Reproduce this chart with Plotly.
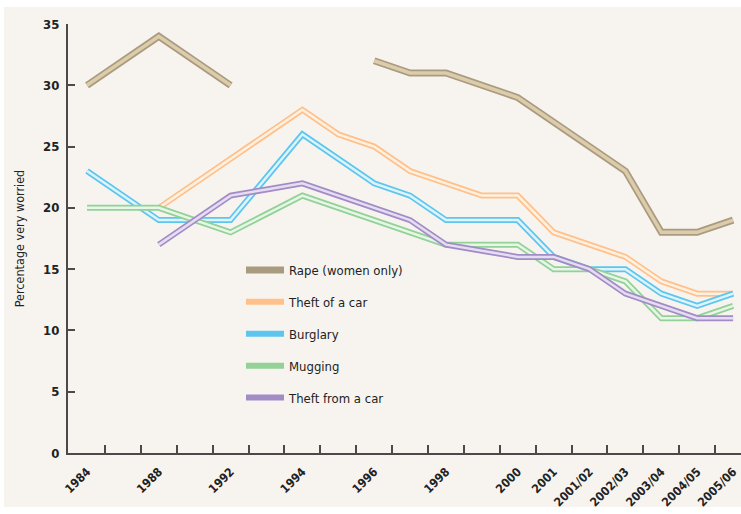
import plotly.graph_objects as go

# 19 evenly spaced slots along the x axis; only some carry a label
slot_labels = ["1984", "", "1988", "", "1992", "", "1994", "", "1996", "",
               "1998", "", "2000", "2001", "2001/02", "2002/03", "2003/04",
               "2004/05", "2005/06"]
slots = list(range(len(slot_labels)))

rape = [30, 32, 34, 32, 30, None, None, None, 32, 31,
        31, 30, 29, 27, 25, 23, 18, 18, 19]
theft_of_car = [None, None, 20, 22, 24, 26, 28, 26, 25, 23,
                22, 21, 21, 18, 17, 16, 14, 13, 13]
burglary = [23, 21, 19, 19, 19, 22.5, 26, 24, 22, 21,
            19, 19, 19, 16, 15, 15, 13, 12, 13]
mugging = [20, 20, 20, 19, 18, 19.5, 21, 20, 19, 18,
           17, 17, 17, 15, 15, 14, 11, 11, 12]
theft_from_car = [None, None, 17, 19, 21, 21.5, 22, 21, 20, 19,
                  17, 16.5, 16, 16, 15, 13, 12, 11, 11]

series_names = ["Rape (women only)", "Theft of a car", "Burglary",
                "Mugging", "Theft from a car"]
series_values = [rape, theft_of_car, burglary, mugging, theft_from_car]

y_ticks = [0, 5, 10, 15, 20, 25, 30, 35]

outer_colors = ["#A99B80", "#FFC08A", "#5EC6EE", "#93D197", "#A28CC6"]
inner_colors = ["#DCCCAA", "#FFF1E2", "#DDF4FD", "#E6F6E7", "#E6DDF2"]
outer_widths = [7, 6, 6, 6, 6]
inner_widths = [3.5, 2.5, 2.5, 2.5, 2.5]

FONT = "DejaVu Sans Condensed, DejaVu Sans, sans-serif"

fig = go.Figure()
for i, (name, vals) in enumerate(zip(series_names, series_values)):
    fig.add_trace(go.Scatter(
        x=slots, y=vals, mode="lines", name=name, legendgroup=name,
        legendrank=i + 1, connectgaps=False, hoverinfo="skip",
        line=dict(color=outer_colors[i], width=outer_widths[i]),
    ))
    fig.add_trace(go.Scatter(
        x=slots, y=vals, mode="lines", name=name, legendgroup=name,
        showlegend=False, connectgaps=False, hoverinfo="skip",
        line=dict(color=inner_colors[i], width=inner_widths[i]),
    ))

tick_vals = [s for s, lab in zip(slots, slot_labels) if lab]
tick_text = [lab for lab in slot_labels if lab]

L, T, B = 68, 24, 61
W, H = 741, 514
pw, ph = W - L, H - T - B

fig.update_layout(
    width=W, height=H,
    margin=dict(l=L, r=0, t=T, b=B, autoexpand=False),
    paper_bgcolor="white",
    plot_bgcolor="rgba(0,0,0,0)",
    font=dict(family=FONT, color="#222222"),
    showlegend=True,
    legend=dict(
        x=(241 - L) / pw, xanchor="left",
        y=(H - B - 255) / ph, yanchor="top",
        bgcolor="rgba(0,0,0,0)",
        font=dict(family=FONT, size=13, color="#222222"),
        tracegroupgap=12,
        traceorder="grouped",
        itemwidth=38,
    ),
    shapes=[dict(
        type="rect", xref="paper", yref="paper", layer="below",
        x0=(4 - L) / pw, x1=1.0,
        y0=-(507 - (H - B)) / ph, y1=1 + (T - 7) / ph,
        fillcolor="#F7F4F0", line=dict(width=0),
    )],
    xaxis=dict(
        range=[-0.53, 18.22], automargin=False,
        tickmode="array", tickvals=tick_vals, ticktext=tick_text,
        ticks="", tickangle=-45,
        tickfont=dict(family=FONT, size=12, color="#222222", weight="bold"),
        ticklabelstandoff=5, ticklabeloverflow="allow",
        showline=True, linecolor="#4A4A4A", linewidth=2,
        showgrid=False, zeroline=False,
        minor=dict(tickmode="array",
                   tickvals=[s + 0.5 for s in slots[:-1]],
                   ticks="inside", ticklen=8, tickwidth=2,
                   tickcolor="#4A4A4A", showgrid=False),
    ),
    yaxis=dict(
        range=[0, 35], automargin=False,
        tickmode="array", tickvals=y_ticks,
        ticks="inside", ticklen=7, tickwidth=2, tickcolor="#4A4A4A",
        tickfont=dict(family=FONT, size=13, color="#222222", weight="bold"),
        ticklabelstandoff=4,
        showline=True, linecolor="#4A4A4A", linewidth=2,
        showgrid=False, zeroline=False,
        title=dict(text="Percentage very worried",
                   font=dict(family=FONT, size=12.5, color="#222222"),
                   standoff=16),
    ),
)

fig.write_html(
    "out.html",
    config={"displayModeBar": False},
    post_script="document.body.style.margin='0';document.body.style.padding='0';",
)
